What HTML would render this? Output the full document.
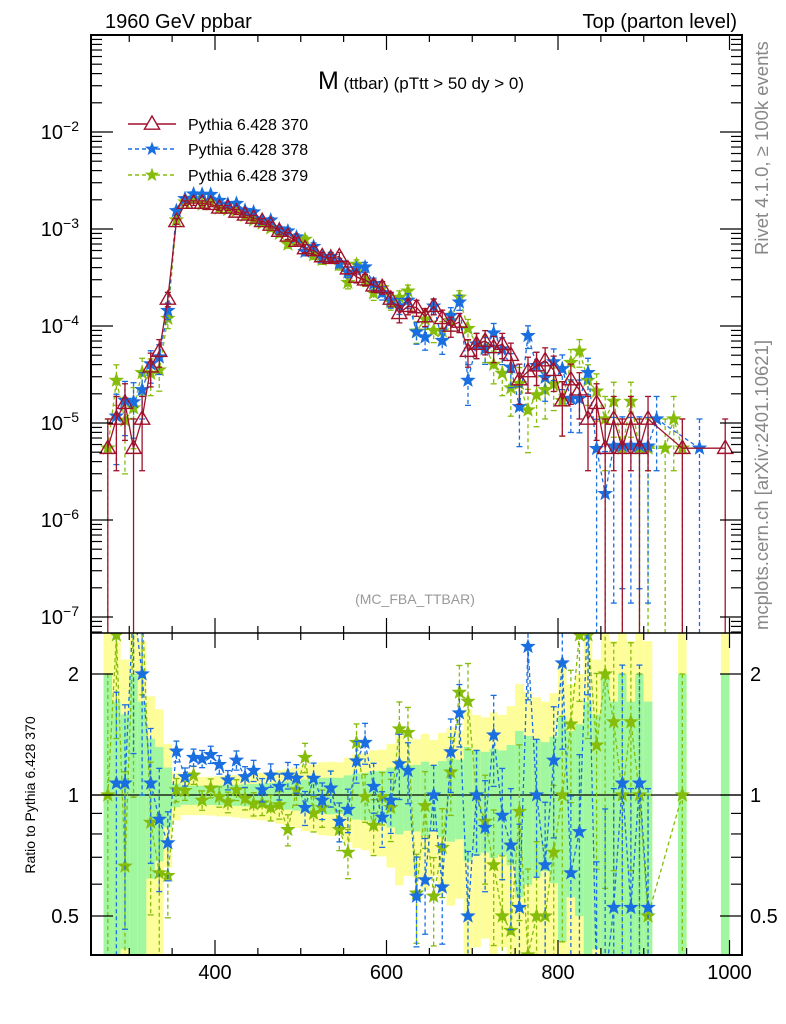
<!DOCTYPE html>
<html><head><meta charset="utf-8"><style>
html,body{margin:0;padding:0;background:#fff;width:786px;height:1024px;overflow:hidden}
svg{display:block;font-family:"Liberation Sans",Arial,sans-serif}
</style></head><body>
<svg id="chart" width="786" height="1024" viewBox="0 0 786 1024" xmlns="http://www.w3.org/2000/svg">
<defs>
<clipPath id="cm"><rect x="91" y="35" width="651" height="598"/></clipPath>
<clipPath id="cr"><rect x="91" y="633" width="651" height="322"/></clipPath>
</defs>
<g id="ratioBands" clip-path="url(#cr)"></g>
<g id="ratioLayer" clip-path="url(#cr)"></g>
<g id="mainLayer" clip-path="url(#cm)"></g>
<g id="axes"></g>
<text x="105" y="28" font-size="20">1960 GeV ppbar</text>
<text x="737" y="28" font-size="20" text-anchor="end">Top (parton level)</text>
<text x="421" y="89" text-anchor="middle"><tspan font-size="25">M</tspan><tspan font-size="17"> (ttbar) (pTtt &gt; 50 dy &gt; 0)</tspan></text>
<text x="415" y="604" font-size="14" fill="#999" text-anchor="middle">(MC_FBA_TTBAR)</text>
<text transform="translate(768,255) rotate(-90)" font-size="18.5" fill="#888">Rivet 4.1.0, ≥ 100k events</text>
<text transform="translate(768,630) rotate(-90)" font-size="18.5" fill="#888">mcplots.cern.ch [arXiv:2401.10621]</text>
<text transform="translate(35,795) rotate(-90)" font-size="14" text-anchor="middle">Ratio to Pythia 6.428 370</text>
<g id="legend"></g>
</svg>
<script>
const bins = [275,285,295,305,315,325,335,345,355,365,375,385,395,405,415,425,435,445,455,465,475,485,495,505,515,525,535,545,555,565,575,585,595,605,615,625,635,645,655,665,675,685,695,705,715,725,735,745,755,765,775,785,795,805,815,825,835,845,855,865,875,885,895,905,915,925,935,945,955,965,975,985,995];
const m370 = [5.5e-6,1.1e-5,1.6e-5,5.5e-6,1.1e-5,3.8e-5,5.5e-5,1.9e-4,1.2e-3,1.85e-3,1.85e-3,1.85e-3,1.8e-3,1.65e-3,1.65e-3,1.5e-3,1.4e-3,1.3e-3,1.2e-3,1.1e-3,9.5e-4,8.5e-4,7.5e-4,6.3e-4,6.0e-4,5.2e-4,5.0e-4,5.2e-4,3.9e-4,3.2e-4,3.0e-4,2.6e-4,2.5e-4,1.9e-4,1.35e-4,1.6e-4,1.55e-4,1.25e-4,1.6e-4,1.2e-4,1.0e-4,1.1e-4,5.5e-5,6.5e-5,7e-5,6e-5,6.5e-5,5e-5,2.8e-5,3.4e-5,3.9e-5,4.4e-5,3.5e-5,1.7e-5,2.8e-5,2.2e-5,1.1e-5,1.6e-5,5.5e-6,1.1e-5,5.5e-6,1.1e-5,5.5e-6,1.1e-5,0,0,0,5.5e-6,0,0,0,0,5.5e-6];
const r378 = [null,1.07,1.07,3,2.0,1.07,0.87,0.76,1.285,1.11,1.24,1.23,1.26,1.19,1.09,1.22,1.11,1.15,1.03,1.12,1.05,1.12,1.10,0.93,1.10,0.97,1.04,0.86,0.92,1.215,1.35,1.05,0.88,0.97,1.195,1.15,0.56,0.615,1.0,0.59,1.28,1.6,0.5,1.0,0.83,1.41,0.89,0.75,0.525,2.34,1.0,0.67,1.22,2.13,0.64,0.81,3,0.34,0.34,0.525,1.07,0.525,1.07,0.525,null,null,null,null,null,null,null,null,null];
const r379 = [1.0,2.5,0.665,2.6,3,0.855,0.64,0.63,1.03,1.025,1.12,0.97,1.04,0.99,0.96,1.03,0.98,0.95,0.955,0.93,0.945,0.82,1.03,1.24,0.90,0.93,1.04,0.82,0.72,1.35,0.99,0.84,0.99,0.93,1.46,1.43,0.57,0.94,0.56,0.74,1.14,1.8,1.71,1.0,0.86,0.67,0.5,0.46,0.91,0.4,0.5,0.5,0.72,1.0,1.5,2.5,2.5,1.33,2.0,1.52,1.0,1.52,1.0,0.5,null,null,null,1.0,null,null,null,null,null];
const extra378 = [[915,1.1e-5],[965,5.5e-6]];
const extra379 = [[925,5.5e-6],[935,1.1e-5]];
const yTicksMain = [-7,-6,-5,-4,-3,-2];
const yTicksRatio = [0.5,1,2];
const xTicks = [400,600,800,1000];
const unitW = 5.5e-6;

const NS="http://www.w3.org/2000/svg";
const X0=91,X1=742,YT=35,YM=633,YB=955;
const cl=y=>Math.max(0,Math.min(1000,y));
const xs=v=>215+(v-400)*0.8575;
const ym=v=>cl(132+(-2-Math.log10(v))*97);
const yr=r=>cl(795-Math.log10(r)*402);
function mk(tag,at,parent){const e=document.createElementNS(NS,tag);for(const k in at)e.setAttribute(k,at[k]);parent.appendChild(e);return e;}
const C370="#a0112b",C378="#1a6fe0",C379="#86bc0a";
function starPts(cx,cy,r){let p=[];for(let i=0;i<10;i++){const a=-Math.PI/2+i*Math.PI/5,rr=i%2?r*0.42:r;p.push((cx+rr*Math.cos(a)).toFixed(1)+","+(cy+rr*Math.sin(a)).toFixed(1));}return p.join(" ");}
function triPts(cx,cy,r){return `${cx},${cy-r} ${cx-r*0.95},${cy+r*0.65} ${cx+r*0.95},${cy+r*0.65}`;}
const relErr=v=>v>0?1/Math.sqrt(v/unitW):0;

const main=document.getElementById('mainLayer');
const ratio=document.getElementById('ratioLayer');
const bands=document.getElementById('ratioBands');

bins.forEach((b,i)=>{
  const v=m370[i]; if(!(v>0))return;
  const e=relErr(v);
  const x1=xs(b-5),x2=xs(b+5);
  const y2lo=Math.max(1-2*e,0.2),g=Math.max(1-e,0.2);
  const ry=mk('rect',{x:x1,y:yr(1+2*e),width:x2-x1,height:yr(y2lo)-yr(1+2*e),fill:'#fdfd9a'},bands);
  
  
  const rg=mk('rect',{x:x1,y:yr(1+e),width:x2-x1,height:yr(g)-yr(1+e),fill:'#a0f7a0'},bands);
  
  
});
const l1=mk('line',{x1:X0,x2:X1,y1:yr(1),y2:yr(1),stroke:'#000','stroke-width':1.2},bands);



function series(pts,color,dash,marker,layer,yf,name,floorY){
  const g=mk('g',{},layer);
  
  
  const d=pts.map((p,i)=>(i?'L':'M')+xs(p[0]).toFixed(1)+','+yf(p[1]).toFixed(1)).join(' ');
  mk('path',{d:d,fill:'none',stroke:color,'stroke-width':1.3,'stroke-dasharray':dash||'none'},g);
  pts.forEach(p=>{
    const x=xs(p[0]);
    const hi=p[2],lo=p[3];
    const yh=yf(hi),yl=lo>0?Math.min(yf(lo),floorY):floorY;
    mk('line',{x1:x,x2:x,y1:yh,y2:yl,stroke:color,'stroke-width':1.3,'stroke-dasharray':dash||'none'},g);
    mk('line',{x1:x-3,x2:x+3,y1:yh,y2:yh,stroke:color,'stroke-width':1.3},g);
    if(lo>0)mk('line',{x1:x-3,x2:x+3,y1:yl,y2:yl,stroke:color,'stroke-width':1.3},g);
  });
  pts.forEach(p=>{
    const x=xs(p[0]),y=yf(p[1]);
    let m;
    if(marker==='tri') m=mk('polygon',{points:triPts(x,y,8),fill:'none',stroke:color,'stroke-width':1.4},g);
    else m=mk('polygon',{points:starPts(x,y,7),fill:color,stroke:color,'stroke-width':0.8},g);
    
    
  });
}
const p370=[],p378=[],p379=[],q378=[],q379=[];
bins.forEach((b,i)=>{
  const v=m370[i];
  if(v>0){const e=relErr(v);p370.push([b,v,v*(1+e),v*(1-e)]);}
  [[r378,p378,q378],[r379,p379,q379]].forEach(([r,p,q])=>{
    if(r[i]!=null&&v>0){const w=v*r[i],e=relErr(w);p.push([b,w,w*(1+e),w*(1-e)]);q.push([b,r[i],r[i]*(1+e),r[i]*(1-e)]);}
  });
});
extra378.forEach(([b,w])=>{const e=relErr(w);p378.push([b,w,w*(1+e),w*(1-e)]);});
extra379.forEach(([b,w])=>{const e=relErr(w);p379.push([b,w,w*(1+e),w*(1-e)]);});
p378.sort((a,b)=>a[0]-b[0]);p379.sort((a,b)=>a[0]-b[0]);
series(p379,C379,'4,3','star',main,ym,'series-379',640);
series(p378,C378,'4,3','star',main,ym,'series-378',640);
series(p370,C370,null,'tri',main,ym,'series-370',640);
series(q379,C379,'4,3','star',ratio,yr,'ratio-379',960);
series(q378,C378,'4,3','star',ratio,yr,'ratio-378',960);

const ax=document.getElementById('axes');
const fr=mk('rect',{x:X0,y:YT,width:X1-X0,height:YB-YT,fill:'none',stroke:'#000','stroke-width':2},ax);


mk('line',{x1:X0,x2:X1,y1:YM,y2:YM,stroke:'#000','stroke-width':1.5},ax);
for(let v=300;v<=1000;v+=50){
  const x=xs(v);if(x<X0||x>X1)continue;
  const L=(v%200===0)?15:7;
  [YT,YM].forEach(y0=>mk('line',{x1:x,x2:x,y1:y0,y2:y0+L,stroke:'#000','stroke-width':1.2},ax));
  [YM,YB].forEach(y0=>mk('line',{x1:x,x2:x,y1:y0,y2:y0-L,stroke:'#000','stroke-width':1.2},ax));
}
xTicks.forEach(v=>{
  const t=mk('text',{x:xs(v),y:979,'font-size':20,'text-anchor':'middle'},ax);t.textContent=v;
  
  
});
for(let d=-8;d<=-1;d++){
  for(let k=1;k<10;k++){
    const y=132+(-2-Math.log10(k*Math.pow(10,d)))*97;if(y<YT||y>YM)continue;
    const L=k===1?22:11;
    mk('line',{x1:X0,x2:X0+L,y1:y,y2:y,stroke:'#000','stroke-width':1.2},ax);
    mk('line',{x1:X1,x2:X1-L,y1:y,y2:y,stroke:'#000','stroke-width':1.2},ax);
  }
}
yTicksMain.forEach(d=>{
  const t=mk('text',{x:79,y:ym(Math.pow(10,d))+7,'font-size':20,'text-anchor':'end'},ax);
  t.innerHTML='10<tspan dy="-8" font-size="14">−'+(-d)+'</tspan>';
  
  
});
[0.4,0.5,0.6,0.7,0.8,0.9,1,2].forEach(r=>{
  const y=yr(r);const L=(r===0.5||r===1||r===2)?22:11;
  mk('line',{x1:X0,x2:X0+L,y1:y,y2:y,stroke:'#000','stroke-width':1.2},ax);
  mk('line',{x1:X1,x2:X1-L,y1:y,y2:y,stroke:'#000','stroke-width':1.2},ax);
});
yTicksRatio.forEach(r=>{
  const t=mk('text',{x:79,y:yr(r)+7,'font-size':20,'text-anchor':'end'},ax);t.textContent=r;
  
  
  const t2=mk('text',{x:750,y:yr(r)+7,'font-size':20},ax);t2.textContent=r;
  
  
});
const lg=document.getElementById('legend');
[['Pythia 6.428 370',C370,null,'tri',124],['Pythia 6.428 378',C378,'4,3','star',149],['Pythia 6.428 379',C379,'4,3','star',175]].forEach(([lab,c,dash,m,y])=>{
  const g=mk('g',{},lg);
  
  
  mk('line',{x1:128,x2:176,y1:y,y2:y,stroke:c,'stroke-width':1.4,'stroke-dasharray':dash||'none'},g);
  if(m==='tri')mk('polygon',{points:triPts(152,y,8),fill:'#fff',stroke:c,'stroke-width':1.4},g);
  else mk('polygon',{points:starPts(152,y,6),fill:c,stroke:c},g);
  const t=mk('text',{x:188,y:y+6,'font-size':16},g);t.textContent=lab;
});
</script>
</body></html>
